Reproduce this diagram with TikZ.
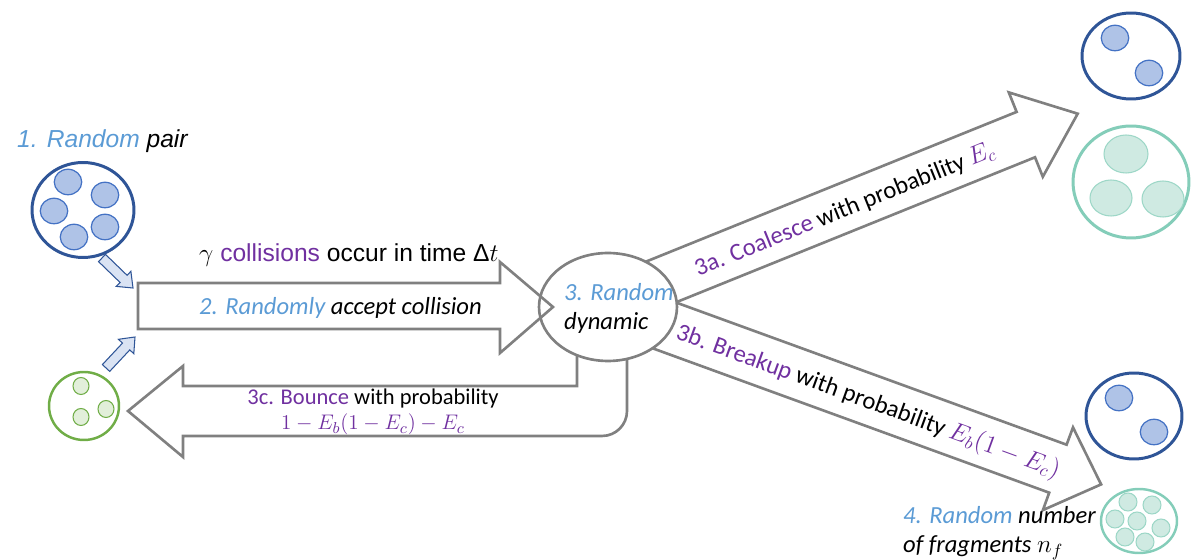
\documentclass[tikz,border=0pt]{standalone}
\usepackage{fontspec}
\setmainfont{Carlito}
\newfontfamily\arialfont{Liberation Sans}
\usepackage{xcolor}
\usepackage{tikz}
\usetikzlibrary{shapes.geometric}
\definecolor{txtblue}{HTML}{5B9BD5}
\definecolor{txtviolet}{HTML}{7030A0}
\definecolor{arrgray}{HTML}{808080}
\definecolor{ringblue}{HTML}{2F5597}
\definecolor{dropblue}{HTML}{4472C4}
\definecolor{dropfill}{HTML}{AFC3E7}
\definecolor{ringgreen}{HTML}{70AD47}
\definecolor{dropgreen}{HTML}{E2EFDA}
\definecolor{ringteal}{HTML}{84CDB9}
\definecolor{dropteal}{HTML}{CFEAE2}
\definecolor{arrfill}{HTML}{DAE3F3}

\begin{document}
\begin{tikzpicture}[x=0.02cm, y=-0.02cm,
    blockarr/.style={draw=arrgray, line width=1.5pt, fill=white},
    feedarr/.style={draw=ringblue, fill=arrfill, line width=0.6pt},
    bluering/.style={ellipse, draw=ringblue, line width=1.7pt, inner sep=0pt},
    greenring/.style={ellipse, draw=ringgreen, line width=1.4pt, inner sep=0pt},
    tealring/.style={ellipse, draw=ringteal, line width=1.7pt, inner sep=0pt},
    bdrop/.style={ellipse, draw=dropblue, fill=dropfill, line width=0.7pt,
                  inner sep=0pt, minimum width=0.55cm, minimum height=0.51cm},
    gdrop/.style={ellipse, draw=ringgreen, fill=dropgreen, line width=0.6pt,
                  inner sep=0pt, minimum width=0.32cm, minimum height=0.34cm},
    tdrop/.style={ellipse, draw=ringteal!80, fill=dropteal, line width=0.6pt,
                  inner sep=0pt},
    arial/.style={font=\arialfont\fontsize{14}{17}\selectfont},
    calib/.style={font=\fontsize{14}{17}\selectfont}]
  \useasboundingbox (0,0) rectangle (1191,560);

  % 1 the random pair
  \node[arial, anchor=base west] (pairtxt) at (11,148)
    {\itshape\textcolor{txtblue}{1. Random} pair};
  \node[bluering, minimum width=2.04cm, minimum height=1.9cm] (pair) at (83,210) {};
  \foreach \x/\y in {68/182, 105/195, 54/211, 105/227, 74/237}
    \node[bdrop] at (\x,\y) {};
  \node[greenring, minimum width=1.4cm, minimum height=1.36cm] (small) at (84,406) {};
  \foreach \x/\y in {81/386, 81/417, 106/409}
    \node[gdrop] at (\x,\y) {};
  % the two drops join the collision
  \draw[feedarr] (105.5,254.4) -- (127.1,275.3) -- (130.9,271.3) -- (133,288)
    -- (116.3,286.4) -- (120.1,282.5) -- (98.5,261.6) -- cycle;
  \draw[feedarr] (102.4,364.6) -- (122.5,343.1) -- (118.4,339.3) -- (135,337)
    -- (133.8,353.7) -- (129.8,349.9) -- (109.7,371.4) -- cycle;

  % 3a / 3b block arrows, tails hidden under the dynamic
  \draw[blockarr] (626.5,269.5) -- (1016.6,111.9) -- (1008.8,92.4) -- (1077.7,113.7)
    -- (1042.8,176.8) -- (1035.0,157.3) -- (644.9,314.9) -- cycle;
  \draw[blockarr] (647.5,292.1) -- (1066.6,444.7) -- (1073.0,427.4) -- (1101.1,484.4)
    -- (1042.9,510.1) -- (1049.2,492.7) -- (630.1,340.1) -- cycle;
  % 3c bounce arrow back to the left
  \draw[blockarr] (577,330) -- (577,386) -- (183,386) -- (183,366) -- (128,411)
    -- (183,457) -- (183,436) -- (602,436) to[out=0, in=-90] (627,411)
    -- (627,330) -- cycle;

  % 3 the random dynamic
  \node[ellipse, draw=arrgray, line width=1.5pt, fill=white, minimum width=2.76cm,
        minimum height=2.16cm] (dyn) at (608,307) {};
  \node[calib, align=left, anchor=base west] (dyntxt) at (558,330)
    {\itshape\textcolor{txtblue}{3. Random}\\\itshape dynamic};

  % 2 the collision arrow
  \draw[draw=arrgray, line width=1.5pt] (138,283) -- (500,283) -- (500,262)
    -- (553,307) -- (500,353) -- (500,329) -- (138,329) -- cycle;
  \node[arial, anchor=base west] (colltxt) at (193,262)
    {$\gamma$ \textcolor{txtviolet}{collisions} occur in time Δ$t$};
  \node[calib, anchor=base west] (accepttxt) at (193,315)
    {\itshape\textcolor{txtblue}{2. Randomly} accept collision};

  % labels on the block arrows
  \node[calib, rotate=22] (coaltxt) at (845,210)
    {\textcolor{txtviolet}{3a. Coalesce} with probability \textcolor{txtviolet}{$E_c$}};
  \node[calib, rotate=-20] (breaktxt) at (868,402)
    {\textcolor{txtviolet}{3b. Breakup} with probability
     \textcolor{txtviolet}{$E_b(1-E_c)$}};
  \node[font=\fontsize{12.8}{14.4}\selectfont, align=center, anchor=base] (bouncetxt)
    at (373,430) {\textcolor{txtviolet}{3c. Bounce} with probability\\
     \textcolor{txtviolet}{$1-E_b(1-E_c)-E_c$}};

  % outcomes on the right
  \node[bluering, minimum width=1.96cm, minimum height=1.72cm] (coalA) at (1131,56) {};
  \foreach \x/\y in {1115/38, 1149/73}
    \node[bdrop] at (\x,\y) {};
  \node[tealring, minimum width=2.32cm, minimum height=2.24cm] (coalB) at (1131,182) {};
  \node[tdrop, minimum width=0.88cm, minimum height=0.76cm] at (1126,154) {};
  \foreach \x/\y in {1111/198, 1163/199}
    \node[tdrop, minimum width=0.84cm, minimum height=0.72cm] at (\x,\y) {};
  \node[bluering, minimum width=1.92cm, minimum height=1.72cm] (breakA) at (1134,416) {};
  \foreach \x/\y in {1119/398, 1154/432}
    \node[bdrop] at (\x,\y) {};
  \node[tealring, line width=1.4pt, minimum width=1.52cm, minimum height=1.28cm]
    (breakB) at (1139,521) {};
  \foreach \x/\y in {1128/502, 1152/505, 1115/519, 1137/521, 1161/528, 1125/537, 1145/542}
    \node[tdrop, minimum size=0.36cm] at (\x,\y) {};
  \node[calib, align=left, anchor=base west] (fragtxt) at (897,553)
    {\itshape\textcolor{txtblue}{4. Random} number\\\itshape of fragments $n_f$};
\end{tikzpicture}
\end{document}
